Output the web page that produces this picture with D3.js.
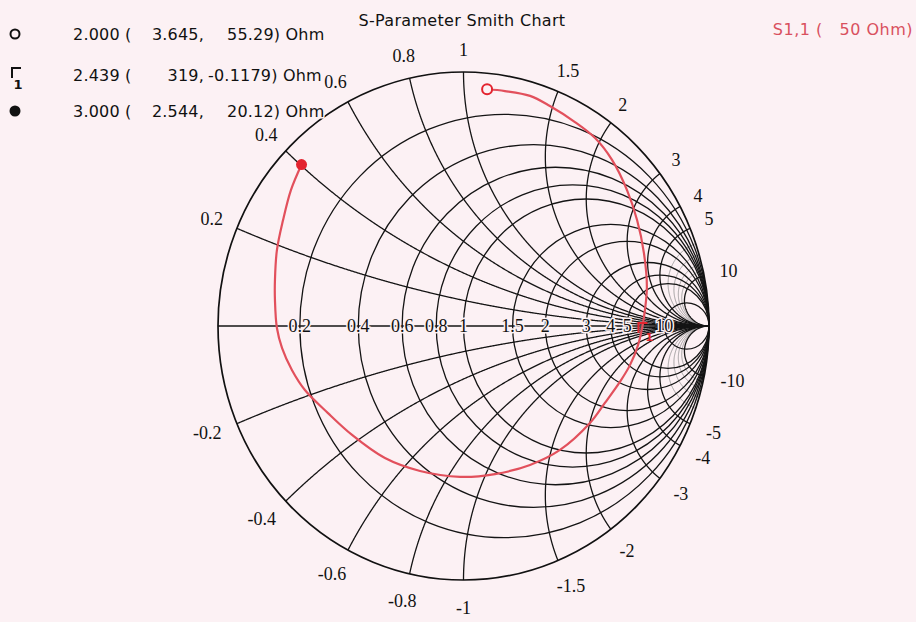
<!DOCTYPE html>
<html><head><meta charset="utf-8">
<script src="https://cdn.jsdelivr.net/npm/d3@7"></script>
<style>html,body{margin:0;padding:0;background:#fcf1f4}svg{display:block}</style>
</head><body>
<svg id="chart" width="916" height="622"></svg>
<script>
// ---- data ----
const z0 = 50;
const resistanceValues = [0.2, 0.4, 0.6, 0.8, 1, 1.5, 2, 3, 4, 5, 10];
const resistanceLabels = ["0.2", "0.4", "0.6", "0.8", "1", "1.5", "2", "3", "4", "5", "10"];
const reactanceValues = [0.2, 0.4, 0.6, 0.8, 1, 1.5, 2, 3, 4, 5, 10];
const reactanceLabels = ["0.2", "0.4", "0.6", "0.8", "1", "1.5", "2", "3", "4", "5", "10"];
const fineReactanceValues = [6, 7, 8, 9];
// S1,1 trace, reflection coefficient (2 GHz -> 3 GHz)
const traceRe = [0.096, 0.169, 0.271, 0.352, 0.454, 0.536, 0.605, 0.666, 0.707, 0.735, 0.747, 0.739, 0.729, 0.711, 0.678, 0.637, 0.576, 0.515, 0.393, 0.271, 0.128, -0.014, -0.177, -0.320, -0.454, -0.552, -0.646, -0.699, -0.739, -0.760, -0.768, -0.768, -0.760, -0.735, -0.703, -0.660];
const traceIm = [0.932, 0.925, 0.906, 0.866, 0.803, 0.740, 0.654, 0.535, 0.417, 0.287, 0.154, 0.063, 0.000, -0.075, -0.154, -0.220, -0.303, -0.382, -0.488, -0.547, -0.583, -0.594, -0.571, -0.520, -0.429, -0.343, -0.252, -0.173, -0.087, -0.008, 0.102, 0.181, 0.299, 0.417, 0.535, 0.635];
// markers (legend)
const markerSymbols = ["open", "bracket", "filled"];
const markerFreq = ["2.000", "2.439", "3.000"];
const markerR = ["3.645", "319", "2.544"];
const markerX = ["55.29", "-0.1179", "20.12"];
const titleText = "S-Parameter Smith Chart";
const traceName = "S1,1 (   50 Ohm)";

// ---- layout ----
const W = 916, H = 622;
const bg = "#fcf1f4";
const redLine = "#e2505c", redMark = "#e3232e";
const sx = d3.scaleLinear().domain([-1, 1]).range([218, 709]);
const sy = d3.scaleLinear().domain([-1, 1]).range([580, 72]);
const svg = d3.select("#chart");
svg.append("rect").attr("width", W).attr("height", H).attr("fill", bg);

function gamma(r, x) {
  const den = (r + 1) * (r + 1) + x * x;
  return [(r * r - 1 + x * x) / den, 2 * x / den];
}
const line = d3.line().x(d => sx(d[0])).y(d => sy(d[1]));
function arcPts(x) {
  const pts = [];
  const n = 700;
  for (let i = 0; i < n; i++) {
    const r = Math.tan((i / n) * Math.PI / 2);
    pts.push(gamma(r, x));
  }
  pts.push([1, 0]);
  return pts;
}

const grid = svg.append("g");
// fine reactance arcs (grey)
fineReactanceValues.forEach(v => {
  [v, -v].forEach(x => grid.append("path").attr("d", line(arcPts(x)))
    .attr("fill", "none").attr("stroke", "#8a8a8a").attr("stroke-width", 0.8));
});
// resistance circles
resistanceValues.forEach(r => {
  const c = r / (r + 1), rad = 1 / (r + 1);
  grid.append("ellipse")
    .attr("cx", sx(c)).attr("cy", sy(0))
    .attr("rx", sx(rad) - sx(0)).attr("ry", sy(0) - sy(rad))
    .attr("fill", "none").attr("stroke", "#141414").attr("stroke-width", 1.3);
});
// reactance arcs
reactanceValues.forEach(v => {
  [v, -v].forEach(x => grid.append("path").attr("d", line(arcPts(x)))
    .attr("fill", "none").attr("stroke", "#141414").attr("stroke-width", 1.3));
});
// horizontal axis
grid.append("line").attr("x1", sx(-1)).attr("x2", sx(1)).attr("y1", sy(0)).attr("y2", sy(0))
  .attr("stroke", "#141414").attr("stroke-width", 1.3);
// outer circle
grid.append("ellipse").attr("cx", sx(0)).attr("cy", sy(0))
  .attr("rx", sx(1) - sx(0)).attr("ry", sy(0) - sy(1))
  .attr("fill", "none").attr("stroke", "#111").attr("stroke-width", 1.7);

// resistance labels on the axis
const labFont = "'Liberation Serif','Times New Roman',serif";
resistanceValues.forEach((r, i) => {
  grid.append("text").attr("x", sx((r - 1) / (r + 1))).attr("y", sy(0))
    .attr("text-anchor", "middle").attr("dominant-baseline", "central")
    .attr("font-family", labFont).attr("font-size", 18).attr("fill", "#111")
    .attr("stroke", bg).attr("stroke-width", 3).attr("paint-order", "stroke")
    .text(resistanceLabels[i]);
});
// reactance labels around the rim
const cxp = sx(0), cyp = sy(0);
function rimLabel(x, txt) {
  const g = gamma(0, x);
  const px = sx(g[0]), py = sy(g[1]);
  let dx = px - cxp, dy = py - cyp;
  const L = Math.hypot(dx, dy); dx /= L; dy /= L;
  const t = grid.append("text").attr("text-anchor", "middle").attr("dominant-baseline", "central")
    .attr("font-family", labFont).attr("font-size", 18).attr("fill", "#111").text(txt);
  const w = t.node().getComputedTextLength(), h = 13;
  const gap = 16 + 5 * Math.max(0, dy);
  t.attr("x", px + dx * gap + dx * w / 2).attr("y", py + dy * gap + dy * h / 2);
}
reactanceValues.forEach((v, i) => {
  rimLabel(v, reactanceLabels[i]);
  rimLabel(-v, "-" + reactanceLabels[i]);
});

// trace
const trace = traceRe.map((d, i) => [d, traceIm[i]]);
svg.append("path").attr("d", d3.line().x(d => sx(d[0])).y(d => sy(d[1])).curve(d3.curveCatmullRom)(trace))
  .attr("fill", "none").attr("stroke", redLine).attr("stroke-width", 2.2);

// markers on chart
markerSymbols.forEach((s, i) => {
  const g = gamma(+markerR[i] / z0, +markerX[i] / z0);
  const px = sx(g[0]), py = sy(g[1]);
  if (s === "open") {
    svg.append("circle").attr("cx", px).attr("cy", py).attr("r", 5)
      .attr("fill", bg).attr("stroke", redMark).attr("stroke-width", 2);
  } else if (s === "filled") {
    svg.append("circle").attr("cx", px).attr("cy", py).attr("r", 5.5).attr("fill", redMark);
  } else {
    svg.append("path").attr("d", `M${px - 4},${py + 7}V${py - 3}H${px + 5}`)
      .attr("fill", "none").attr("stroke", redMark).attr("stroke-width", 2);
    svg.append("text").attr("x", px + 3).attr("y", py + 15).attr("font-family", "'DejaVu Sans',sans-serif")
      .attr("font-size", 11).attr("font-weight", "bold").attr("fill", redMark).text("1");
  }
});

// legend
const sans = "'DejaVu Sans',Verdana,sans-serif";
const rowY = [34, 75, 111];
const col3X = [227, 208, 227];
const leg = svg.append("g").attr("font-family", sans).attr("font-size", 16)
  .attr("letter-spacing", 0.2).attr("fill", "#111")
  .attr("stroke", bg).attr("stroke-width", 3).attr("paint-order", "stroke");
markerSymbols.forEach((s, i) => {
  const y = rowY[i];
  if (s === "open") {
    svg.append("circle").attr("cx", 15).attr("cy", y).attr("r", 4.5)
      .attr("fill", "none").attr("stroke", "#111").attr("stroke-width", 2);
  } else if (s === "filled") {
    svg.append("circle").attr("cx", 15).attr("cy", y).attr("r", 5.5).attr("fill", "#111");
  } else {
    svg.append("path").attr("d", `M12,${y + 3}V${y - 7}H21`)
      .attr("fill", "none").attr("stroke", "#111").attr("stroke-width", 2);
    svg.append("text").attr("x", 18).attr("y", y + 14).attr("text-anchor", "middle")
      .attr("font-family", sans).attr("font-size", 13).attr("font-weight", "bold").attr("fill", "#111").text("1");
  }
  leg.append("text").attr("x", 73).attr("y", y).attr("dominant-baseline", "central").text(markerFreq[i] + " (");
  leg.append("text").attr("x", 204).attr("y", y).attr("dominant-baseline", "central")
    .attr("text-anchor", "end").text(markerR[i] + ",");
  leg.append("text").attr("x", col3X[i]).attr("y", y).attr("dominant-baseline", "central")
    .text(markerX[i] + ") Ohm");
});

// title
svg.append("text").attr("x", 462).attr("y", 20).attr("text-anchor", "middle")
  .attr("dominant-baseline", "central").attr("font-family", sans).attr("font-size", 16)
  .attr("letter-spacing", 0.3).attr("fill", "#111").text(titleText);
// trace name
svg.append("text").attr("x", 913).attr("y", 29).attr("text-anchor", "end")
  .attr("dominant-baseline", "central").attr("font-family", sans).attr("font-size", 16)
  .attr("letter-spacing", 0.5)
  .style("white-space", "pre")
  .attr("fill", "#d9505e").text(traceName);
</script>
</body></html>
